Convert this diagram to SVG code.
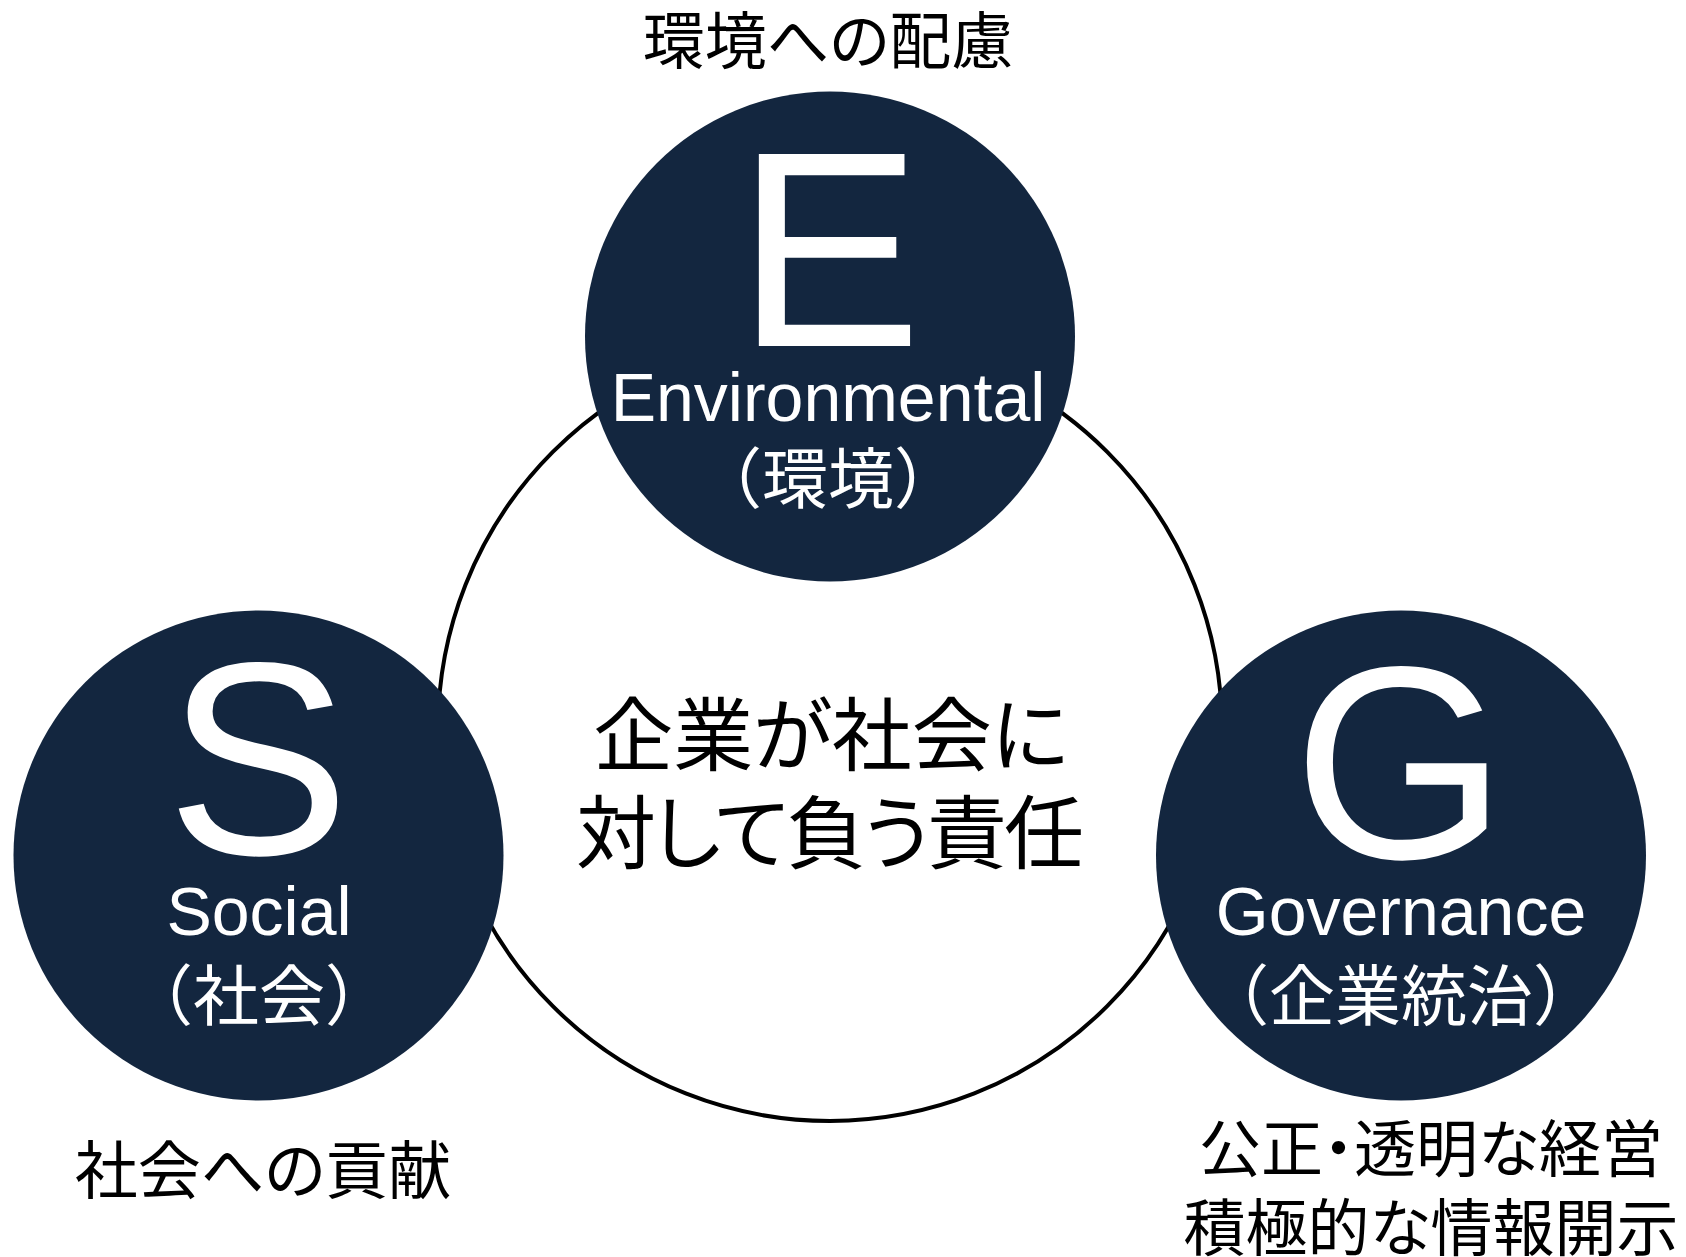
<svg xmlns="http://www.w3.org/2000/svg" width="1686" height="1257" viewBox="0 0 1686 1257">
<style>
.bg{fill:#ffffff}
.core{fill:#ffffff;stroke:#000000;stroke-width:4}
.disc{fill:#13263f}
.big{font-family:"Liberation Sans",Arial,sans-serif;fill:#ffffff;text-anchor:middle}
.en{font-family:"Liberation Sans",Arial,sans-serif;font-size:68px;fill:#ffffff;text-anchor:middle}
.jw{font-family:"Noto Sans CJK JP",sans-serif;font-size:66px;fill:#ffffff;text-anchor:middle}
.jb{font-family:"Noto Sans CJK JP",sans-serif;fill:#000000;text-anchor:middle;font-feature-settings:"palt"}
</style>
<rect class="bg" x="0" y="0" width="1686" height="1257"/>
<g id="core">
<circle class="core" cx="830" cy="729" r="392"/>
<text class="jb" font-size="80" x="831" y="764">企業が社会に</text>
<text class="jb" font-size="80" x="830" y="862" textLength="508" lengthAdjust="spacing">対して負う責任</text>
</g>
<g id="connectors"></g>
<g id="node-E">
<circle class="disc" cx="830" cy="336.5" r="245"/>
<text class="big" font-size="279" x="829" y="346">E</text>
<text class="en" x="828" y="421">Environmental</text>
<text class="jw" x="828" y="503">（環境）</text>
</g>
<g id="node-S">
<circle class="disc" cx="258.5" cy="855.5" r="245"/>
<text class="big" font-size="275" x="258" y="854">S</text>
<text class="en" x="259" y="935">Social</text>
<text class="jw" x="259" y="1020">（社会）</text>
</g>
<g id="node-G">
<circle class="disc" cx="1401" cy="855.5" r="245"/>
<text class="big" font-size="275" x="1400" y="858">G</text>
<text class="en" x="1401" y="935">Governance</text>
<text class="jw" x="1401" y="1020">（企業統治）</text>
</g>
<g id="labels">
<text class="jb" font-size="62" x="828" y="64">環境への配慮</text>
<text class="jb" font-size="63" x="263" y="1193">社会への貢献</text>
<text class="jb" font-size="62" x="1431" y="1172">公正・透明な経営</text>
<text class="jb" font-size="62" x="1431" y="1251">積極的な情報開示</text>
</g>
</svg>
